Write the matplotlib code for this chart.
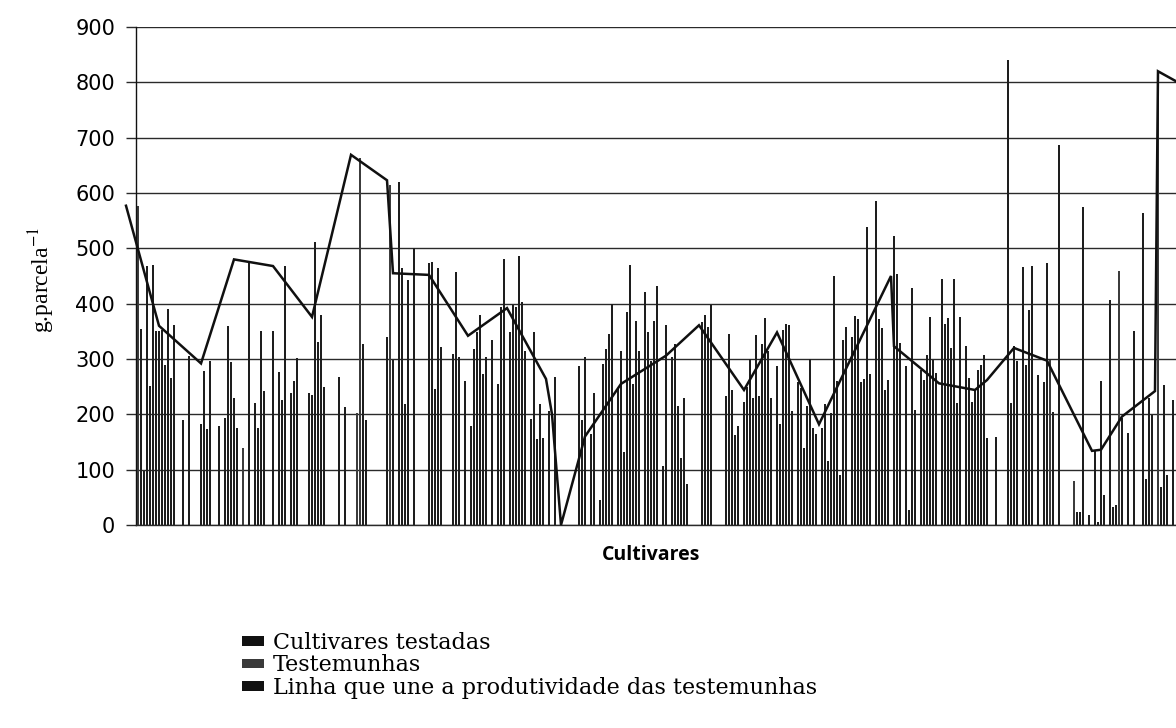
import matplotlib
matplotlib.use("Agg")
import matplotlib.pyplot as plt
from matplotlib.patches import Patch

plt.rcParams['mathtext.fontset'] = 'stix'

# ---------------- data ----------------
# cultivar number (category position) and yield (g.parcela-1) of the tested cultivars
cultivar_pos = [
    1, 2, 3, 4, 5, 6, 7, 8, 9, 10,
    11, 12, 15, 17, 21, 22, 23, 24, 27, 29,
    30, 31, 32, 33, 37, 39, 40, 41, 42, 45,
    47, 48, 49, 51, 52, 53, 57, 58, 59, 60,
    61, 62, 67, 69, 75, 76, 83, 85, 87, 88,
    89, 90, 92, 97, 98, 99, 100, 101, 105, 106,
    107, 109, 111, 112, 113, 114, 115, 116, 118, 120,
    121, 122, 124, 125, 126, 127, 128, 129, 131, 132,
    133, 134, 135, 137, 139, 147, 148, 149, 151, 152,
    154, 155, 156, 157, 158, 160, 161, 162, 163, 164,
    165, 166, 167, 169, 170, 171, 172, 173, 175, 176,
    178, 179, 180, 181, 182, 183, 188, 189, 190, 191,
    196, 197, 198, 199, 200, 202, 203, 204, 205, 206,
    207, 208, 209, 210, 211, 213, 214, 215, 216, 217,
    218, 220, 221, 222, 223, 224, 225, 226, 228, 229,
    230, 231, 232, 233, 234, 235, 236, 238, 239, 240,
    241, 242, 243, 244, 246, 247, 248, 249, 250, 252,
    253, 254, 256, 257, 258, 259, 261, 262, 263, 264,
    265, 266, 268, 269, 270, 271, 272, 273, 274, 276,
    277, 278, 279, 280, 281, 282, 283, 286, 290, 291,
    292, 293, 295, 296, 297, 298, 300, 302, 303, 305,
    307, 313, 314, 315, 317, 319, 320, 321, 322, 324,
    325, 326, 328, 330, 332, 335, 336, 337, 338, 341,
    342, 343, 345,
]
cultivar_prod = [
    355, 97, 468, 251, 470, 350, 350, 353, 290, 390,
    266, 361, 190, 305, 183, 278, 173, 296, 179, 193,
    360, 294, 230, 175, 474, 220, 175, 350, 243, 350,
    276, 226, 468, 239, 261, 302, 238, 235, 512, 331,
    380, 250, 267, 214, 328, 190, 340, 298, 620, 464,
    219, 443, 500, 474, 476, 245, 464, 322, 309, 458,
    303, 261, 179, 318, 348, 379, 273, 303, 335, 255,
    394, 480, 348, 397, 394, 486, 403, 315, 191, 348,
    155, 218, 158, 206, 267, 288, 189, 303, 164, 239,
    45, 291, 318, 345, 400, 245, 314, 132, 385, 470,
    255, 368, 315, 421, 348, 297, 368, 432, 106, 361,
    303, 327, 215, 121, 230, 74, 367, 379, 358, 397,
    233, 345, 244, 162, 179, 223, 250, 300, 230, 344,
    233, 327, 375, 315, 230, 288, 182, 352, 364, 361,
    206, 258, 248, 139, 215, 300, 176, 164, 176, 218,
    115, 203, 450, 261, 91, 335, 358, 339, 377, 373,
    258, 264, 539, 273, 585, 373, 356, 244, 262, 523,
    453, 329, 287, 27, 428, 208, 281, 262, 308, 376,
    299, 275, 445, 364, 374, 320, 444, 220, 376, 323,
    266, 223, 244, 281, 290, 308, 157, 159, 840, 220,
    323, 296, 466, 290, 389, 468, 271, 259, 473, 205,
    686, 24, 24, 574, 18, 136, 6, 260, 54, 407,
    33, 36, 193, 166, 350, 564, 84, 230, 199, 69,
    253, 90, 226,
]
# check cultivars (testemunhas)
testemunha_pos = [0, 35, 73, 74, 84, 304, 312, 327, 340]
testemunha_prod = [577, 140, 202, 663, 614, 298, 80, 459, 820]

# line joining the yield of the check cultivars
linha_pos = [-4, 7, 21, 32, 45, 58, 71, 83, 85, 97, 110, 123, 136, 138, 141,
             149, 161, 176, 187, 202, 213, 227, 251, 252, 267, 279, 283, 292,
             303, 318, 321, 328, 339, 340, 350]
linha_prod = [577, 360, 292, 480, 468, 376, 669, 623, 455, 452, 342, 392, 264,
              200, 0, 160, 255, 306, 361, 244, 348, 182, 450, 323, 256, 244,
              262, 320, 297, 134, 136, 196, 242, 820, 790]

y_ticks = [0, 100, 200, 300, 400, 500, 600, 700, 800, 900]
legend_labels = ["Cultivares testadas", "Testemunhas",
                 "Linha que une a produtividade das testemunhas"]

assert len(cultivar_pos) == len(cultivar_prod)
assert len(testemunha_pos) == len(testemunha_prod)
assert len(linha_pos) == len(linha_prod)

# ---------------- figure ----------------
W, H = 1176, 728
fig = plt.figure(figsize=(W / 100, H / 100), dpi=100)
fig.patch.set_facecolor("white")

left_px, right_px, top_px, bottom_px = 136, 1190, 27, 525
ax = fig.add_axes([left_px / W, 1 - bottom_px / H,
                   (right_px - left_px) / W, (bottom_px - top_px) / H])
ax.set_xlim(-0.67, 350.67)
ax.set_ylim(0, 900)

ax.bar(cultivar_pos, cultivar_prod, width=0.55, color="#1e1e1e",
       linewidth=0, zorder=2)
ax.bar(testemunha_pos, testemunha_prod, width=0.9, color="#3c3c3c",
       linewidth=0, zorder=2)
ax.plot(linha_pos, linha_prod, color="#101010", lw=1.8, zorder=3,
        clip_on=False, solid_joinstyle="miter")

ax.set_yticks(y_ticks)
ax.set_yticklabels([str(v) for v in y_ticks], family="DejaVu Sans",
                   fontsize=15)
ax.yaxis.grid(True, color="#2a2a2a", lw=1.0)
ax.set_axisbelow(True)
ax.tick_params(axis="y", length=7, width=1.0, direction="out", pad=8,
               color="#2a2a2a")
ax.set_xticks([])
for s in ("top", "right"):
    ax.spines[s].set_visible(False)
ax.spines["left"].set_color("#111111")
ax.spines["left"].set_linewidth(1.0)
ax.spines["bottom"].set_color("#2a2a2a")
ax.spines["bottom"].set_linewidth(1.0)

fig.text(42 / W, 1 - 280 / H, r"g.parcela$^{-1}$", rotation=90,
         family="Liberation Serif", fontsize=17, ha="center", va="center")
fig.text(651 / W, 1 - 555 / H, "Cultivares", family="Open Sans",
         weight="bold", fontsize=14, ha="center", va="center")

handles = [Patch(facecolor="#111111", edgecolor="none"),
           Patch(facecolor="#3a3a3a", edgecolor="none"),
           Patch(facecolor="#111111", edgecolor="none")]
fig.legend(handles, legend_labels, loc="upper left",
           bbox_to_anchor=(242 / W, 1 - 632 / H), frameon=False,
           prop={"family": "DejaVu Serif", "size": 16},
           handlelength=1.0, handleheight=0.3, handletextpad=0.4,
           labelspacing=0.02, borderpad=0, borderaxespad=0)

fig.savefig("out.png", dpi=100, facecolor="white")
